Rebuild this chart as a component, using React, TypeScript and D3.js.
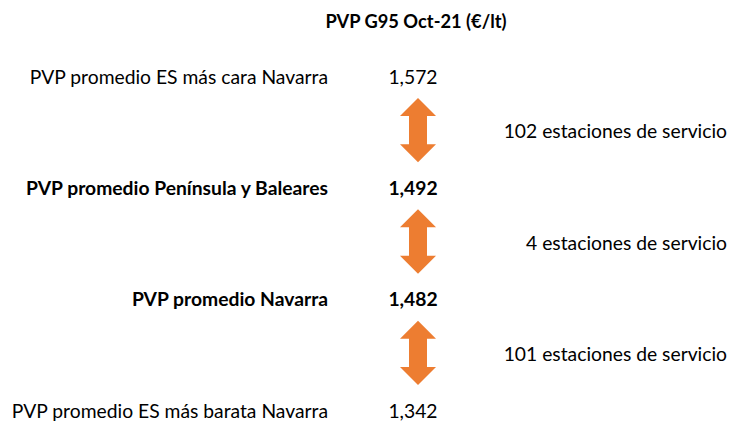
import React from "react";
import * as d3 from "d3";

const rowLabels = [
  "PVP promedio ES más cara Navarra",
  "PVP promedio Península y Baleares",
  "PVP promedio Navarra",
  "PVP promedio ES más barata Navarra",
];
const rowValues = [1.572, 1.492, 1.482, 1.342];
const rowBold = [false, true, true, false];
const gapLabels = [
  "102 estaciones de servicio",
  "4 estaciones de servicio",
  "101 estaciones de servicio",
];
const title = "PVP G95 Oct-21 (€/lt)";

const W = 730;
const H = 421;
const FONT = "Lato, 'Open Sans', sans-serif";
const ORANGE = "#ED7D31";
const FS = 19.3;

export default function App() {
  const y = d3
    .scalePoint<number>()
    .domain(d3.range(rowLabels.length))
    .range([76, 410]);
  const fmt = (v: number) => d3.format(".3f")(v).replace(".", ",");
  const labelX = 328;
  const valueX = 413;
  const arrowX = 418;
  const gapX = 727;

  const arrowPath = (top: number, bottom: number) => {
    const hw = 18;
    const sw = 9;
    const hh = 18;
    const p = d3.path();
    p.moveTo(arrowX, top);
    p.lineTo(arrowX + hw, top + hh);
    p.lineTo(arrowX + sw, top + hh);
    p.lineTo(arrowX + sw, bottom - hh);
    p.lineTo(arrowX + hw, bottom - hh);
    p.lineTo(arrowX, bottom);
    p.lineTo(arrowX - hw, bottom - hh);
    p.lineTo(arrowX - sw, bottom - hh);
    p.lineTo(arrowX - sw, top + hh);
    p.lineTo(arrowX - hw, top + hh);
    p.closePath();
    return p.toString();
  };

  return (
    <svg
      width={W}
      height={H}
      style={{ position: "absolute", left: 0, top: 0, background: "#fff" }}
      fontFamily={FONT}
    >
      <text
        x={416}
        y={21}
        textAnchor="middle"
        dominantBaseline="central"
        fontSize={18.3}
        fontWeight="bold"
        fill="#000"
      >
        {title}
      </text>
      {rowLabels.map((l, i) => (
        <g key={l}>
          <text
            x={labelX}
            y={y(i)}
            textAnchor="end"
            dominantBaseline="central"
            fontSize={FS}
            fontWeight={rowBold[i] ? "bold" : "normal"}
            fill="#000"
          >
            {l}
          </text>
          <text
            x={valueX}
            y={y(i)}
            textAnchor="middle"
            dominantBaseline="central"
            fontSize={FS}
            fontWeight={rowBold[i] ? "bold" : "normal"}
            fill="#000"
          >
            {fmt(rowValues[i])}
          </text>
        </g>
      ))}
      {gapLabels.map((g, i) => {
        const a = y(i)!;
        const b = y(i + 1)!;
        return (
          <g key={g}>
            <path d={arrowPath(a + 22, b - 25)} fill={ORANGE} />
            <text
              x={gapX}
              y={(a + b) / 2 - 1}
              textAnchor="end"
              dominantBaseline="central"
              fontSize={FS}
              fill="#000"
            >
              {g}
            </text>
          </g>
        );
      })}
    </svg>
  );
}
